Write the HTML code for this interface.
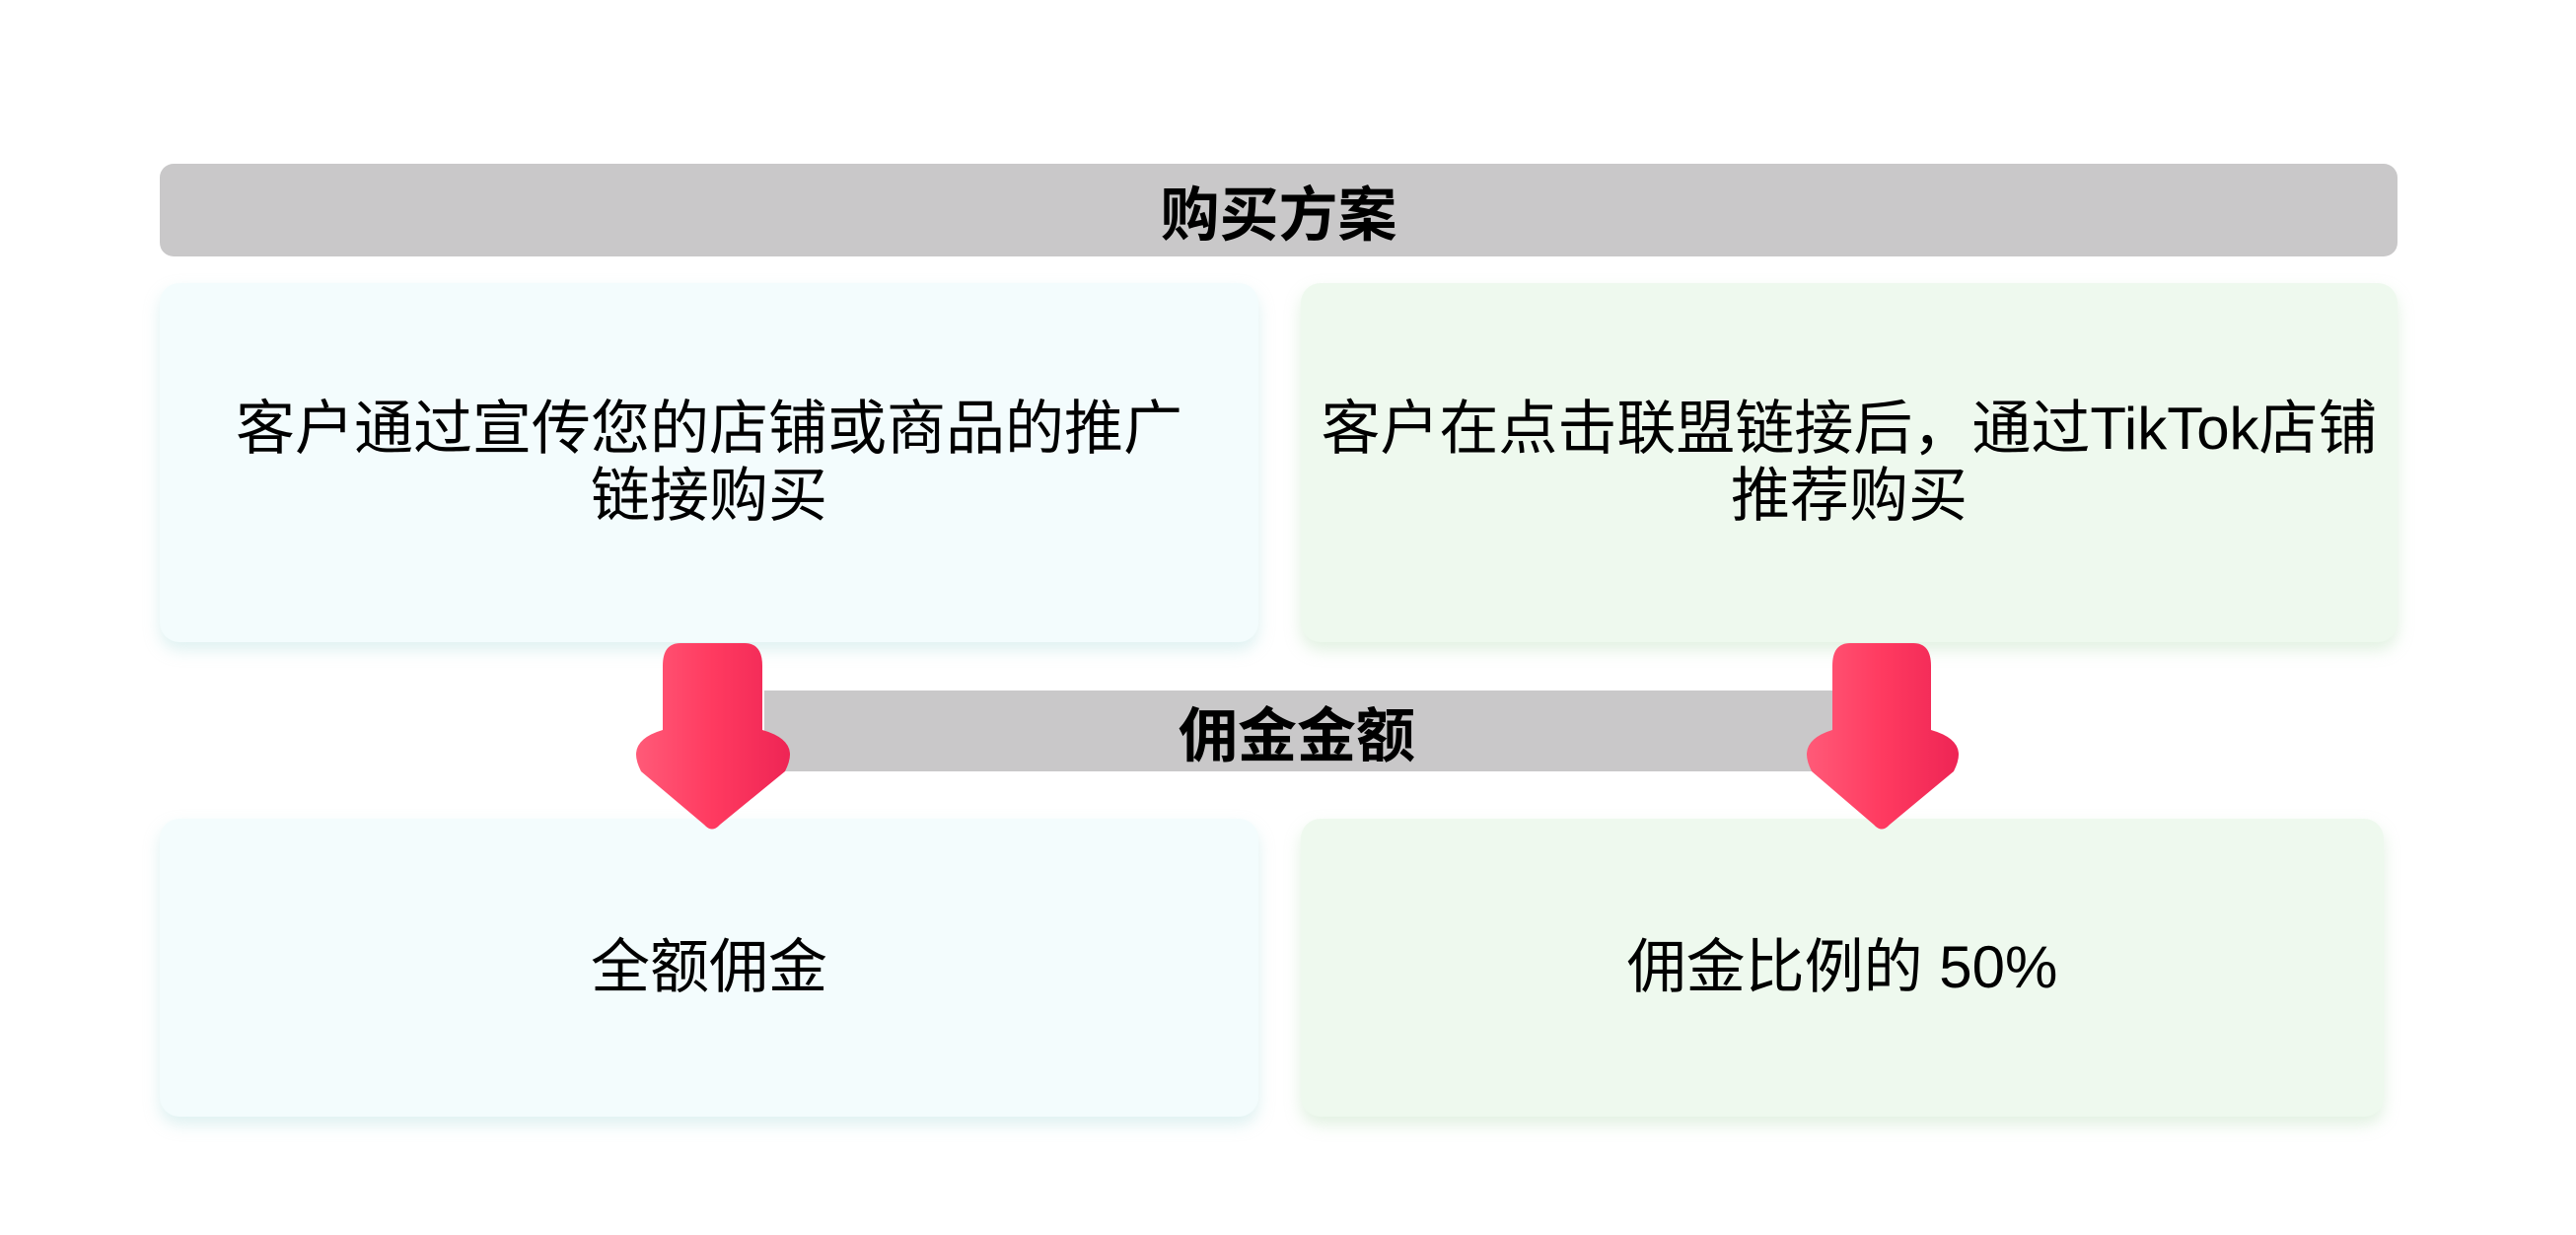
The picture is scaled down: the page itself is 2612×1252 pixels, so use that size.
<!DOCTYPE html>
<html><head><meta charset="utf-8"><style>
body{margin:0;width:2612px;height:1252px;background:#fff;position:relative;overflow:hidden;font-family:"Liberation Sans","Noto Sans CJK SC",sans-serif;}
.a{position:absolute;box-sizing:border-box;display:flex;align-items:center;justify-content:center;text-align:center;}
.bar{background:#c9c8c9;font-weight:bold;font-size:60px;color:#000;}
.box{border-radius:20px;font-size:60px;line-height:68px;color:#000;}
.bl{background:#f3fcfd;box-shadow:0 8px 16px rgba(160,215,215,0.35);}
.gr{background:#eef9ee;box-shadow:0 8px 16px rgba(170,215,170,0.35);}
</style></head><body>
<div class="a bar" style="left:162px;top:166px;width:2269px;height:94px;border-radius:14px;">购买方案</div>
<div class="a box bl" style="left:162px;top:287px;width:1114px;height:364px;">客户通过宣传您的店铺或商品的推广<br>链接购买</div>
<div class="a box gr" style="left:1319px;top:287px;width:1112px;height:364px;">客户在点击联盟链接后，通过TikTok店铺<br>推荐购买</div>
<div class="a bar" style="left:775px;top:700px;width:1110px;height:82px;padding-right:30px;">佣金金额</div>
<div class="a box bl" style="left:162px;top:830px;width:1114px;height:302px;">全额佣金</div>
<div class="a box gr" style="left:1319px;top:830px;width:1098px;height:302px;">佣金比例的 50%</div>
<svg style="position:absolute;left:0;top:0" width="2612" height="1252">
<defs><linearGradient id="g" x1="0" x2="1"><stop offset="0" stop-color="#ff5a78"/><stop offset="0.5" stop-color="#ff3a60"/><stop offset="1" stop-color="#ee2555"/></linearGradient></defs>
<g fill="url(#g)">
<path d="M690 652 Q672 652 672 675 L672 740 Q645 748 645 765 Q645 772 650 782 L714 836 Q722 845 730 836 L796 782 Q801 772 801 765 Q801 748 773 740 L773 675 Q773 652 755 652 Z"/>
<path d="M1876 652 Q1858 652 1858 675 L1858 740 Q1832 748 1832 765 Q1832 772 1837 782 L1900 836 Q1908 845 1916 836 L1981 782 Q1986 772 1986 765 Q1986 748 1958 740 L1958 675 Q1958 652 1940 652 Z"/>
</g></svg>
</body></html>
